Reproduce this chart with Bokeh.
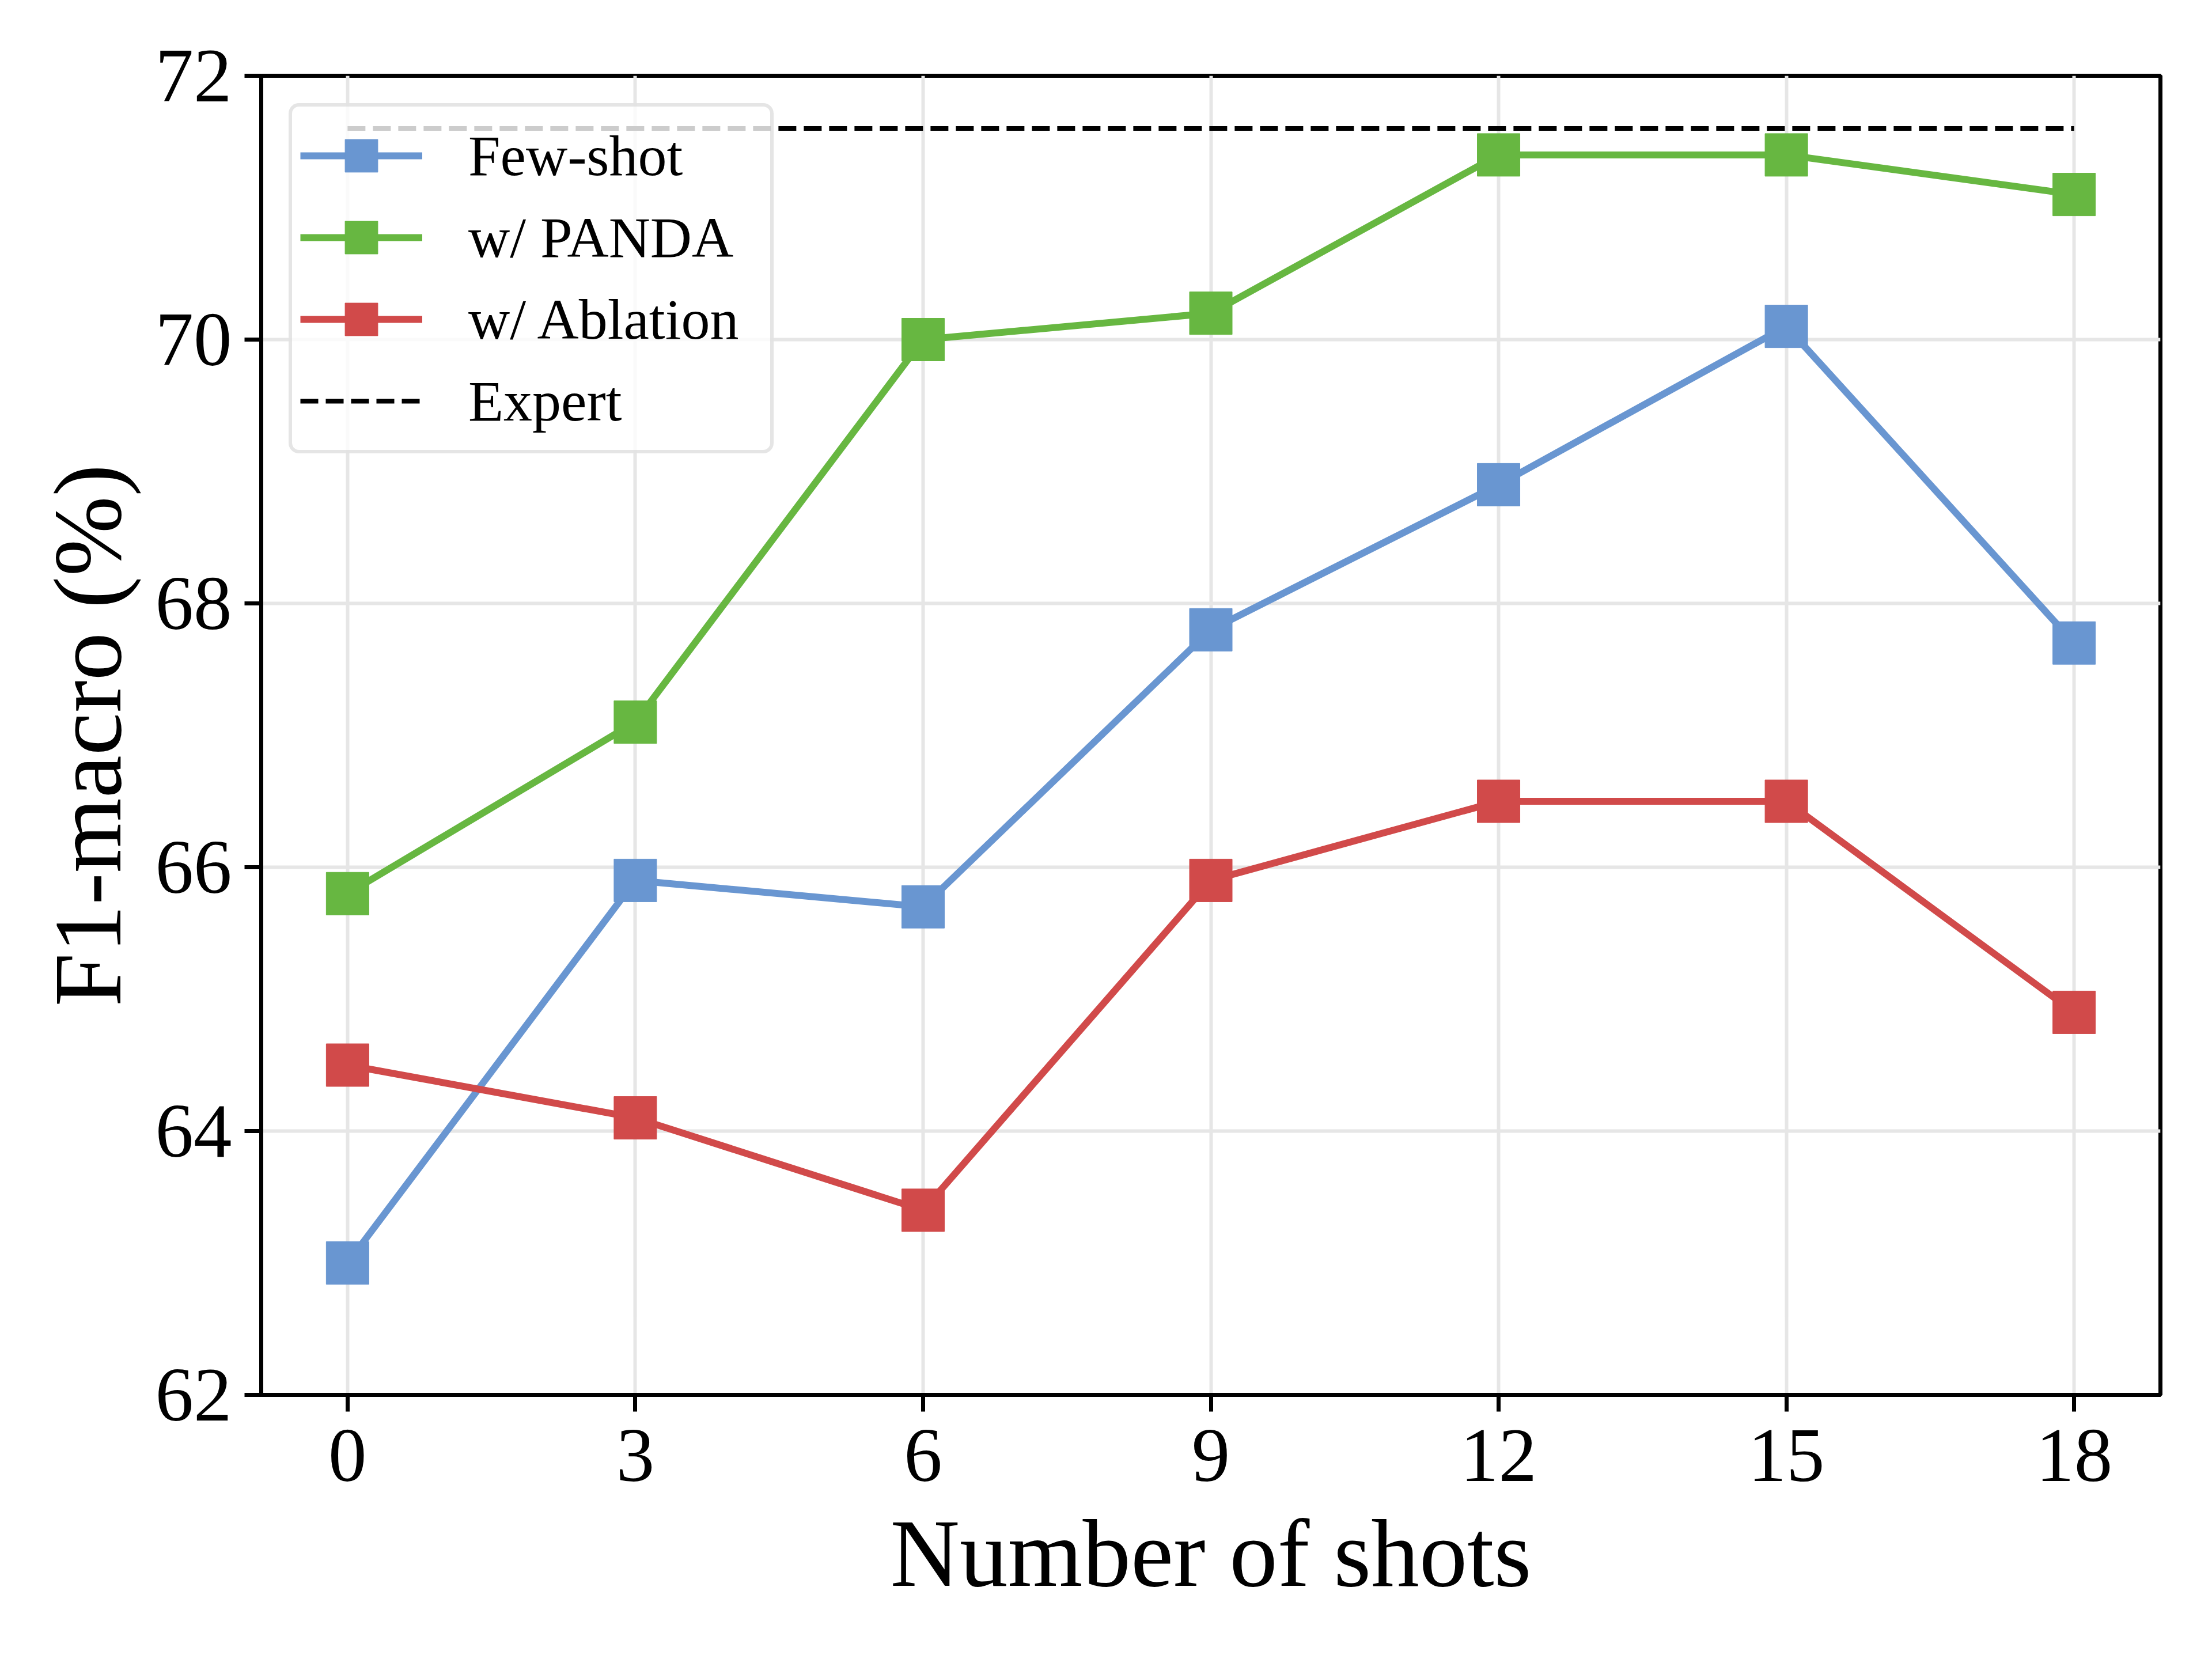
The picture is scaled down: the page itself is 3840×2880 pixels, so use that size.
from bokeh.plotting import figure
from bokeh.models import Range1d, FixedTicker, Legend, LegendItem
from bokeh.embed import file_html
from bokeh.resources import INLINE

shots = [0, 3, 6, 9, 12, 15, 18]
few_shot = [63.0, 65.9, 65.7, 67.8, 68.9, 70.1, 67.7]
w_panda = [65.8, 67.1, 70.0, 70.2, 71.4, 71.4, 71.1]
w_ablation = [64.5, 64.1, 63.4, 65.9, 66.5, 66.5, 64.9]
expert_x = [0, 18]
expert_y = [71.6, 71.6]
x_ticks = [0, 3, 6, 9, 12, 15, 18]
y_ticks = [62, 64, 66, 68, 70, 72]

FONT = "Liberation Serif"

p = figure(width=3824, height=2860, output_backend="svg", toolbar_location=None,
           x_range=Range1d(-0.9, 18.9), y_range=Range1d(62, 72),
           min_border_left=453, min_border_top=131, min_border_right=74, min_border_bottom=439)
p.background_fill_color = "white"
p.border_fill_color = "white"
p.outline_line_color = "black"
p.outline_line_width = 7

for ax in (p.xaxis[0], p.yaxis[0]):
    ax.axis_line_width = 7
    ax.major_tick_line_width = 7
    ax.major_tick_out = 29
    ax.major_tick_in = 0
    ax.minor_tick_line_color = None
    ax.major_label_text_font = FONT
    ax.major_label_text_font_size = "133px"
    ax.major_label_text_color = "black"
    ax.axis_label_text_font = FONT
    ax.axis_label_text_font_size = "167px"
    ax.axis_label_text_font_style = "normal"
    ax.axis_label_text_color = "black"

p.xaxis[0].ticker = FixedTicker(ticks=x_ticks)
p.yaxis[0].ticker = FixedTicker(ticks=y_ticks)
p.xaxis[0].major_label_standoff = 32
p.yaxis[0].major_label_standoff = 22
p.xaxis[0].axis_label = "Number of shots"
p.yaxis[0].axis_label = "F1-macro (%)"
p.xaxis[0].axis_label_standoff = 30
p.yaxis[0].axis_label_standoff = 22

p.xgrid.ticker = FixedTicker(ticks=x_ticks)
p.ygrid.ticker = FixedTicker(ticks=y_ticks)
for g in (p.xgrid[0], p.ygrid[0]):
    g.grid_line_color = "#e6e6e6"
    g.grid_line_width = 6

BLUE = "#6996d1"
GREEN = "#67b741"
RED = "#d14a4a"

items = []
ex = p.line(expert_x, expert_y, line_color="black", line_width=8, line_dash="31 13")
series = [("Few-shot", few_shot, BLUE), ("w/ PANDA", w_panda, GREEN), ("w/ Ablation", w_ablation, RED)]
for name, ys, col in series:
    l = p.line(shots, ys, line_color=col, line_width=12)
    s = p.scatter(shots, ys, marker="square", size=74, fill_color=col, line_color=col, line_width=1)
    items.append(LegendItem(label=name, renderers=[l, s]))
items.append(LegendItem(label="Expert", renderers=[ex]))

legend = Legend(items=items, location="top_left")
legend.margin = 48
legend.padding = 14
legend.glyph_width = 212
legend.glyph_height = 142
legend.label_height = 142
legend.label_width = 510
legend.spacing = 0
legend.label_standoff = 80
legend.label_text_font = FONT
legend.label_text_font_size = "100px"
legend.label_text_color = "black"
legend.border_line_color = "#cccccc"
legend.border_line_width = 6
legend.background_fill_alpha = 0.8
if "border_radius" in legend.properties():
    legend.border_radius = 18
p.add_layout(legend, "center")

open("out.html", "w").write(file_html(p, INLINE))
